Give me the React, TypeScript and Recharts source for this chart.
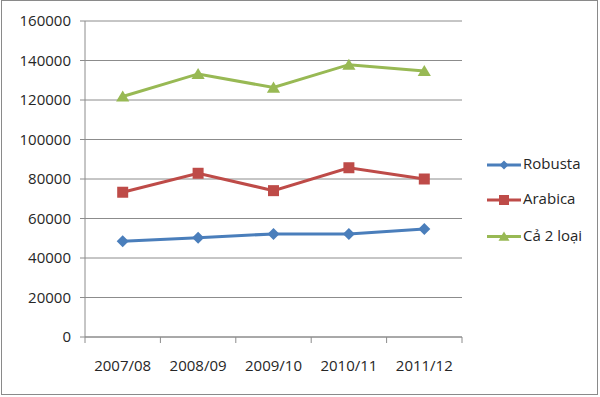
import React from 'react';
import { LineChart, Line, XAxis, YAxis, CartesianGrid } from 'recharts';

const seasons = ['2007/08', '2008/09', '2009/10', '2010/11', '2011/12'];
const robusta = [48500, 50300, 52200, 52200, 54700];
const arabica = [73300, 82900, 74100, 85700, 80000];
const both = [121800, 133200, 126300, 137900, 134700];
const yTicks = [0, 20000, 40000, 60000, 80000, 100000, 120000, 140000, 160000];

const FONT = '"Open Sans", "Liberation Sans", sans-serif';
const TEXT = '#262626';
const GRID = '#8c8c8c';

const W = 600;
const H = 397;
const MARGIN = { top: 21, right: 138, bottom: 0, left: 0 };
const Y_W = 85;
const X_H = 60;
const BAND = (W - MARGIN.left - Y_W - MARGIN.right) / seasons.length;

const data = seasons.map((s, i) => ({
  season: s,
  robusta: robusta[i],
  arabica: arabica[i],
  both: both[i],
}));

type Marker = 'diamond' | 'square' | 'triangle';

const series: { key: string; name: string; color: string; marker: Marker }[] = [
  { key: 'robusta', name: 'Robusta', color: '#4A7EBB', marker: 'diamond' },
  { key: 'arabica', name: 'Arabica', color: '#BE4B48', marker: 'square' },
  { key: 'both', name: 'Cả 2 loại', color: '#98B954', marker: 'triangle' },
];

const markerShape = (marker: Marker, cx: number, cy: number, r: number, color: string, key?: any) => {
  if (marker === 'diamond') {
    return <path key={key} d={`M${cx},${cy - r} L${cx + r},${cy} L${cx},${cy + r} L${cx - r},${cy} Z`} fill={color} />;
  }
  if (marker === 'square') {
    return <rect key={key} x={cx - r} y={cy - r} width={r * 2} height={r * 2} fill={color} />;
  }
  return <path key={key} d={`M${cx},${cy - r} L${cx + r * 1.1},${cy + r * 0.85} L${cx - r * 1.1},${cy + r * 0.85} Z`} fill={color} />;
};

const dotFor = (marker: Marker, color: string, r: number) => (props: any) => {
  const { cx, cy, index } = props;
  if (cx == null || cy == null) return <g key={index} />;
  return markerShape(marker, cx, cy, r, color, index);
};

const SeasonTick = (props: any) => {
  const { x, y, payload, index } = props;
  const half = BAND / 2;
  return (
    <g>
      <line x1={x - half} y1={y} x2={x - half} y2={y + 6} stroke={GRID} />
      {index === seasons.length - 1 && <line x1={x + half} y1={y} x2={x + half} y2={y + 6} stroke={GRID} />}
      <text x={x} y={y + 30} textAnchor="middle" dominantBaseline="middle" fill={TEXT} fontSize={15} fontFamily={FONT}>
        {payload.value}
      </text>
    </g>
  );
};

const legendY = [165, 200, 236.5];

export default function App() {
  return (
    <div style={{ position: 'absolute', left: 0, top: 0, width: W, height: H, background: '#fff', fontFamily: FONT }}>
      <LineChart width={W} height={H} data={data} margin={MARGIN}>
        <CartesianGrid vertical={false} stroke={GRID} strokeWidth={1} />
        <XAxis
          dataKey="season"
          scale="band"
          height={X_H}
          axisLine={{ stroke: GRID }}
          tickLine={false}
          tickSize={0}
          tickMargin={0}
          interval={0}
          tick={<SeasonTick />}
        />
        <YAxis
          width={Y_W}
          domain={[0, 160000]}
          ticks={yTicks}
          interval={0}
          axisLine={{ stroke: GRID }}
          tickLine={{ stroke: GRID }}
          tickSize={5}
          tickMargin={9}
          tick={{ fill: TEXT, fontSize: 15, fontFamily: FONT }}
        />
        {series.map((s) => (
          <Line
            key={s.key}
            dataKey={s.key}
            name={s.name}
            type="linear"
            stroke={s.color}
            strokeWidth={3}
            dot={dotFor(s.marker, s.color, s.marker === 'diamond' ? 6 : s.marker === 'square' ? 5.5 : 6)}
            activeDot={false}
            isAnimationActive={false}
          />
        ))}
      </LineChart>

      {/* legend */}
      <svg style={{ position: 'absolute', left: 0, top: 0 }} width={W} height={H} pointerEvents="none">
        {series.map((s, i) => (
          <g key={s.key}>
            <line x1={487} y1={legendY[i]} x2={521} y2={legendY[i]} stroke={s.color} strokeWidth={3} />
            {markerShape(s.marker, 504, legendY[i], s.marker === 'diamond' ? 4.5 : 5, s.color)}
            <text x={523} y={legendY[i]} dominantBaseline="middle" fill={TEXT} fontSize={15} fontFamily={FONT}>
              {s.name}
            </text>
          </g>
        ))}
      </svg>

      <div
        style={{
          position: 'absolute',
          left: 1,
          top: 0,
          width: 597,
          height: 395,
          border: '1px solid #8a8a8a',
          boxSizing: 'border-box',
          pointerEvents: 'none',
        }}
      />
    </div>
  );
}
